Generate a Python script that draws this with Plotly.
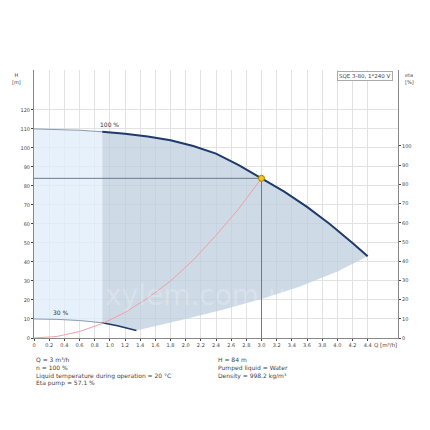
import plotly.graph_objects as go

# pump curves
q_100 = [0, 0.3, 0.6, 0.9, 1.2, 1.5, 1.8, 2.1, 2.4, 2.7, 3.0, 3.3, 3.6, 3.9, 4.2, 4.4]
h_100 = [110, 109.8, 109.3, 108.5, 107.5, 106, 104, 101, 97, 91, 84, 77, 69, 60, 50, 43]
q_30 = [0, 0.3, 0.6, 0.9, 1.1, 1.35]
h_30 = [10, 9.8, 9.2, 8.0, 6.5, 4.0]
q_low = [4.4, 4.0, 3.5, 3.0, 2.5, 2.0, 1.6, 1.35]
h_low = [43, 35, 27, 20.5, 15, 10, 6.5, 4.0]
q_sys = [0, 0.3, 0.6, 0.9, 1.2, 1.5, 1.8, 2.1, 2.4, 2.7, 3.0]
h_sys = [0, 0.8, 3.4, 7.6, 13.4, 21, 30, 41, 54, 68, 84]
q_duty, h_duty = 3.0, 84
x_ticks = [round(i * 0.2, 1) for i in range(23)]

fig = go.Figure()

# light region 0..0.9
i9 = q_100.index(0.9)
fig.add_trace(go.Scatter(x=q_100[:i9 + 1] + q_30[:4][::-1], y=h_100[:i9 + 1] + h_30[:4][::-1],
                         fill="toself", fillcolor="rgba(225,237,250,0.8)", line=dict(width=0),
                         mode="lines", hoverinfo="skip"))
# dark region 0.9..
fig.add_trace(go.Scatter(x=q_100[i9:] + q_low + q_30[3:][::-1], y=h_100[i9:] + h_low + h_30[3:][::-1],
                         fill="toself", fillcolor="rgba(190,205,222,0.75)", line=dict(width=0),
                         mode="lines", hoverinfo="skip"))
fig.add_trace(go.Scatter(x=q_100[:i9 + 1], y=h_100[:i9 + 1], mode="lines",
                         line=dict(color="#8a9ab0", width=1)))
fig.add_trace(go.Scatter(x=q_100[i9:], y=h_100[i9:], mode="lines",
                         line=dict(color="#1f3a6b", width=2)))
fig.add_trace(go.Scatter(x=q_30[:4], y=h_30[:4], mode="lines", line=dict(color="#8a9ab0", width=1)))
fig.add_trace(go.Scatter(x=q_30[3:], y=h_30[3:], mode="lines", line=dict(color="#1f3a6b", width=1.5)))
fig.add_trace(go.Scatter(x=q_sys, y=h_sys, mode="lines", line=dict(color="#f0a0a8", width=1)))
fig.add_trace(go.Scatter(x=[0, q_duty, q_duty], y=[h_duty, h_duty, 0], mode="lines",
                         line=dict(color="#6a7a90", width=1)))
fig.add_trace(go.Scatter(x=[q_duty], y=[h_duty], mode="markers",
                         marker=dict(color="#f5c518", size=6, line=dict(color="#a08000", width=1))))
fig.add_trace(go.Scatter(x=[0], y=[0], yaxis="y2", mode="markers", marker=dict(opacity=0)))

fig.add_annotation(x=1.0, y=h_100[i9] + 1, text="100 %", showarrow=False, yanchor="bottom",
                   font=dict(size=6, color="#333"))
fig.add_annotation(x=0.35, y=h_30[1] + 0.5, text="30 %", showarrow=False, yanchor="bottom",
                   font=dict(size=6, color="#333"))
fig.add_annotation(x=4.64, y=0, text="Q [m³/h]", showarrow=False, yanchor="top", yshift=-2,
                   font=dict(size=5.5, color="#444"))
fig.add_annotation(xref="paper", yref="paper", x=-0.03, y=1.0, text="H<br>[m]", showarrow=False,
                   xanchor="right", yanchor="top", align="center", font=dict(size=5, color="#444"))
fig.add_annotation(xref="paper", yref="paper", x=1.015, y=1.0, text="eta<br>[%]", showarrow=False,
                   xanchor="left", yanchor="top", align="left", font=dict(size=5, color="#444"))
fig.add_annotation(xref="paper", yref="paper", x=0.985, y=0.995, text="SQE 3-80, 1*240 V",
                   showarrow=False, xanchor="right", yanchor="top", bordercolor="#aaa", borderwidth=1,
                   borderpad=1, bgcolor="white", font=dict(size=5.5, color="#444"))
fig.add_annotation(xref="paper", yref="paper", x=0.19, y=0.09, text="xylem.com.ua", showarrow=False,
                   xanchor="left", font=dict(size=28, color="rgba(255,255,255,0.22)"))
fig.add_annotation(xref="paper", yref="paper", x=0.0, y=-0.06, xanchor="left", yanchor="top",
                   align="left", showarrow=False, font=dict(size=6, color="#444"),
                   text="Q = 3 m³/h<br>n = 100 %<br>Liquid temperature during operation = 20 °C<br>Eta pump = 57.1 %")
fig.add_annotation(xref="paper", yref="paper", x=0.5, y=-0.06, xanchor="left", yanchor="top",
                   align="left", showarrow=False, font=dict(size=6, color="#444"),
                   text="H = 84 m<br>Pumped liquid = Water<br>Density = 998.2 kg/m³")

axis_font = dict(size=5, color="#444")
fig.update_layout(
    width=430, height=430, showlegend=False, plot_bgcolor="white", paper_bgcolor="white",
    margin=dict(l=26, r=40, t=62, b=100),
    font=dict(family="DejaVu Sans"),
    xaxis=dict(range=[0, 4.8], tickvals=x_ticks, ticktext=[f"{v:.1f}" if v else "0" for v in x_ticks],
               showgrid=True, gridcolor="#e2e2e2", gridwidth=1, tickfont=axis_font, automargin=False,
               showline=True, linecolor="#888", zeroline=False, ticks="outside", ticklen=2),
    yaxis=dict(range=[0, 141], tickvals=list(range(0, 130, 10)), showgrid=True, gridcolor="#e2e2e2",
               tickfont=axis_font, showline=True, linecolor="#888", zeroline=False, automargin=False,
               ticks="outside", ticklen=2),
    yaxis2=dict(range=[0, 141 * 1.9 / 1.92], overlaying="y", side="right", tickvals=list(range(0, 110, 10)),
                showgrid=False, tickfont=axis_font, showline=True, linecolor="#888", zeroline=False,
                automargin=False, ticks="outside", ticklen=2),
)
fig.write_html("out.html")
